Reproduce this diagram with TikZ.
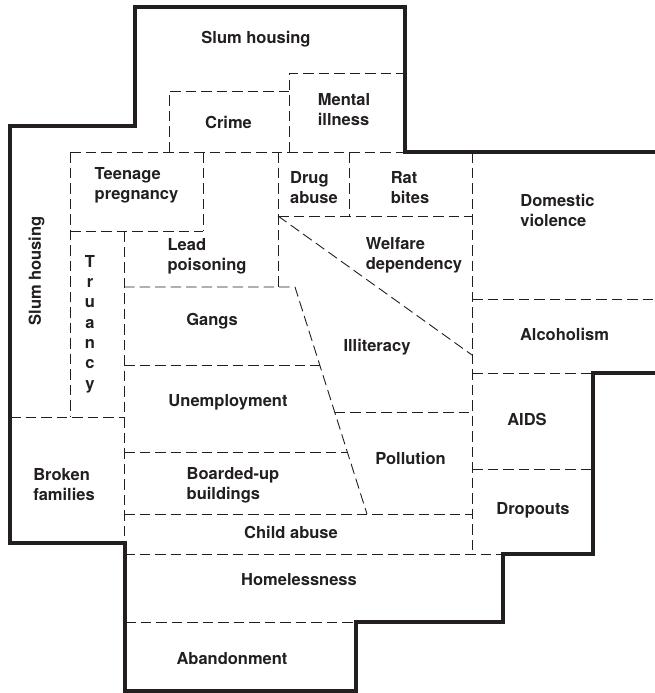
\documentclass[tikz,border=0pt]{standalone}
\usepackage{fontspec}
\setmainfont{TeX Gyre Heros}
\definecolor{ink}{HTML}{231F20}
\begin{document}
\begin{tikzpicture}[x=1pt,y=-1pt,
  wall/.style={draw=ink,line width=3.2pt,line join=miter,line cap=rect},
  part/.style={draw=ink,line width=0.9pt,dash pattern=on 10.5pt off 5pt},
  lbl/.style={text=ink,inner sep=0pt,align=left,font=\fontsize{16.5}{20}\selectfont\bfseries}]
\useasboundingbox (0,0) rectangle (654,693);
% dashed internal boundaries
\draw[part] (289,152) -- (289,73) -- (405,73);
\draw[part] (169,152) -- (169,91) -- (289,91);
\draw[part] (70,152) -- (405,152);
\draw[part] (70,152) -- (70,417);
\draw[part] (203,152) -- (203,231);
\draw[part] (70,231) -- (203,231);
\draw[part] (124,231) -- (124,543);
\draw[part] (278,152) -- (278,287);
\draw[part] (124,287) -- (295,287) -- (367,514);
\draw[part] (349,152) -- (349,216);
\draw[part] (278,216) -- (472,216);
\draw[part] (472,152) -- (472,554);
\draw[part] (278,216) -- (472,355);
\draw[part] (472,299) -- (654,299);
\draw[part] (472,373) -- (593,373);
\draw[part] (472,469) -- (593,469);
\draw[part] (10,417) -- (124,417);
\draw[part] (124,365) -- (319.7,365);
\draw[part] (124,452) -- (347.3,452);
\draw[part] (334.6,412) -- (472,412);
\draw[part] (124,514) -- (472,514);
\draw[part] (124,554) -- (503,554);
\draw[part] (125,622) -- (356,622);
% outer thick boundary
\draw[wall] (654,152) -- (405,152) -- (405,7) -- (135,7) -- (135,126) -- (10,126)
  -- (10,543) -- (125,543) -- (125,691) -- (356,691) -- (356,622) -- (503,622)
  -- (503,554) -- (593,554) -- (593,373) -- (654,373);
% labels
\node[lbl] (slumtop) at (256,39) {Slum housing};
\node[lbl] (crime) at (228.5,122.5) {Crime};
\node[lbl] (mental) at (344,110) {Mental\\illness};
\node[lbl] (teen) at (136.5,185.5) {Teenage\\pregnancy};
\node[lbl] (drug) at (314,188) {Drug\\abuse};
\node[lbl] (rat) at (410,188) {Rat\\bites};
\node[lbl] (domestic) at (557.5,210.5) {Domestic\\violence};
\node[lbl] (lead) at (207,256) {Lead\\poisoning};
\node[lbl] (welfare) at (414,255) {Welfare\\dependency};
\node[lbl,rotate=90] (slumleft) at (36.5,271) {Slum housing};
\node[lbl,align=center,font=\fontsize{16.5}{20.3}\selectfont\bfseries] (truancy) at (90,324) {T\\r\\u\\a\\n\\c\\y};
\node[lbl] (gangs) at (212,321) {Gangs};
\node[lbl] (unemp) at (228,402) {Unemployment};
\node[lbl] (illit) at (377,347) {Illiteracy};
\node[lbl] (alco) at (564.5,334) {Alcoholism};
\node[lbl] (aids) at (527,419) {AIDS};
\node[lbl] (poll) at (410.5,458) {Pollution};
\node[lbl] (drop) at (533,510.5) {Dropouts};
\node[lbl] (broken) at (64,484.5) {Broken\\families};
\node[lbl] (boarded) at (233,485) {Boarded-up\\buildings};
\node[lbl] (child) at (291,532.5) {Child abuse};
\node[lbl] (homeless) at (299,580) {Homelessness};
\node[lbl] (aband) at (232,659) {Abandonment};
\end{tikzpicture}
\end{document}
